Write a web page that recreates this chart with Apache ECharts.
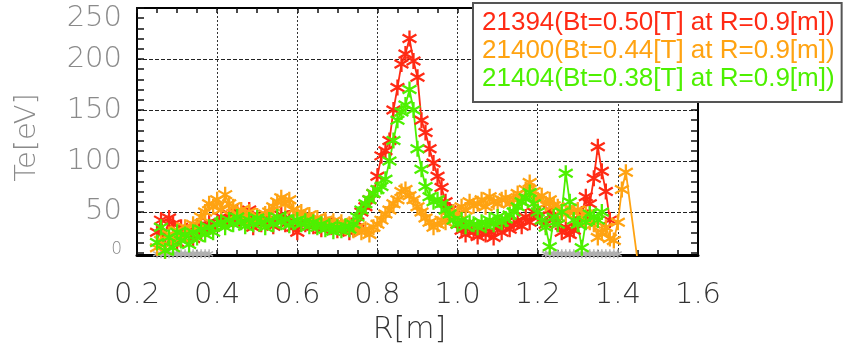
<!DOCTYPE html>
<html>
<head>
<meta charset="utf-8">
<script src="https://cdn.jsdelivr.net/npm/echarts@6/dist/echarts.min.js"></script>
<style>
  html, body { margin: 0; padding: 0; background: #fff; }
  #chart { width: 846px; height: 354px; }
</style>
</head>
<body>
<div id="chart"></div>
<script>
// Major radius sample positions [m]
const radius = [
  0.25,0.26,0.27,0.28,0.29,0.30,0.31,0.32,0.33,0.34,
  0.35,0.36,0.37,0.38,0.39,0.40,0.41,0.42,0.43,0.44,
  0.45,0.46,0.47,0.48,0.49,0.50,0.51,0.52,0.53,0.54,
  0.55,0.56,0.57,0.58,0.59,0.60,0.61,0.62,0.63,0.64,
  0.65,0.66,0.67,0.68,0.69,0.70,0.71,0.72,0.73,0.74,
  0.75,0.76,0.77,0.78,0.79,0.80,0.81,0.82,0.83,0.84,
  0.85,0.86,0.87,0.88,0.89,0.90,0.91,0.92,0.93,0.94,
  0.95,0.96,0.97,0.98,0.99,1.00,1.01,1.02,1.03,1.04,
  1.05,1.06,1.07,1.08,1.09,1.10,1.11,1.12,1.13,1.14,
  1.15,1.16,1.17,1.18,1.19,1.20,1.21,1.22,1.23,1.24,
  1.25,1.26,1.27,1.28,1.29,1.30,1.31,1.32,1.33,1.34,
  1.35,1.36,1.37,1.38,1.39,1.40,1.41,1.42,1.43,1.44,1.45
];

// Electron temperature [eV], shot 21394 (Bt = 0.50 T)
const te21394 = [
  30,42,25,44,38,20,35,28,30,24,
  36,30,33,40,35,38,45,40,48,42,
  50,44,40,52,35,42,38,45,40,36,
  42,47,38,44,35,30,40,38,42,36,
  38,33,40,35,37,32,36,34,30,33,
  40,50,55,62,68,85,105,110,120,150,
  172,195,205,220,198,182,140,128,112,98,
  85,74,60,52,46,38,32,28,35,30,
  26,32,28,31,25,35,30,40,33,38,
  42,36,45,40,50,46,42,38,52,45,
  38,30,35,28,32,40,48,65,58,83,
  114,90,70,42,null,null,null,null,null,null,null
];

// Electron temperature [eV], shot 21400 (Bt = 0.44 T)
const te21400 = [
  15,22,12,28,20,32,25,35,30,38,
  33,45,50,58,55,62,52,67,58,55,
  48,52,45,50,42,46,40,48,50,55,
  60,64,58,62,52,48,50,45,47,42,
  44,40,42,38,41,36,40,35,38,32,
  35,30,33,28,35,38,42,48,52,58,
  62,70,72,66,62,55,50,44,40,35,
  38,42,40,45,50,48,55,52,60,56,
  58,62,55,65,60,58,62,64,58,62,
  68,60,72,79,70,62,66,58,62,56,
  55,50,48,54,50,52,45,48,40,38,
  25,30,35,24,22,40,72,89,null,null,0
];

// Electron temperature [eV], shot 21404 (Bt = 0.38 T)
const te21404 = [
  20,35,12,25,15,30,22,28,18,30,
  25,33,28,35,30,38,40,35,42,38,
  45,40,36,42,38,44,40,35,42,38,
  45,40,43,37,40,42,38,41,36,40,
  35,38,33,36,31,35,32,36,33,38,
  45,52,58,62,68,72,75,82,100,120,
  140,148,155,170,150,112,92,75,65,60,
  62,58,52,48,42,38,42,36,40,38,
  35,40,37,42,38,45,40,43,47,50,
  55,60,64,69,58,50,42,35,16,45,
  38,50,88,60,42,38,15,40,48,45,
  42,50,null,null,null,null,null,null,null,null,null
];

// Channels reading near zero (edge of the axis)
const teZero = [
  9,9,9,9,9,9,9,9,9,9,
  9,9,9,9,null,null,null,null,null,null,
  null,null,null,null,null,null,null,null,null,null,
  null,null,null,null,null,null,null,null,null,null,
  null,null,null,null,null,null,null,null,null,null,
  null,null,null,null,null,null,null,null,null,null,
  null,null,null,null,null,null,null,null,null,null,
  null,null,null,null,null,null,null,null,null,null,
  null,null,null,null,null,null,null,null,null,null,
  null,null,null,null,null,null,null,9,9,9,
  9,9,9,9,9,9,9,9,9,9,
  9,9,9,9,9,9,null,null,null,null,null
];

const seriesNames = [
  '21394(Bt=0.50[T] at R=0.9[m])',
  '21400(Bt=0.44[T] at R=0.9[m])',
  '21404(Bt=0.38[T] at R=0.9[m])'
];
const seriesColors = ['#ff2a14', '#ffa312', '#4df000'];

const xTicks = [0.2, 0.4, 0.6, 0.8, 1.0, 1.2, 1.4, 1.6];
const yLabelValues = [50, 100, 150, 200, 250];
const yGridValues = [50, 100, 150, 200];
const yMinorValues = [10,20,30,40,50,60,70,80,90,100,110,120,130,140,150,160,170,180,190,200,210,220,230,240,250];

const Y_MIN = 7.8, Y_MAX = 250;

// six-armed asterisk drawn as strokes
const ASTERISK = 'path://M10 0L10 20M1.34 5L18.66 15M18.66 5L1.34 15';

function pairs(values, keepGaps) {
  const out = [];
  values.forEach((v, i) => {
    if (v === null) { if (keepGaps) out.push([radius[i], '-']); }
    else out.push([radius[i], v]);
  });
  return out;
}

const FONT = 'DejaVu Sans';

function starSeries(name, values, color, size, stroke, keepGaps) {
  return {
    name: name,
    type: 'line',
    data: pairs(values, keepGaps),
    symbol: ASTERISK,
    symbolSize: size,
    symbolKeepAspect: true,
    showAllSymbol: true,
    lineStyle: { color: color, width: 1.8 },
    itemStyle: { color: color, borderColor: color, borderWidth: stroke },
    emphasis: { disabled: true },
    clip: true
  };
}

const chart = echarts.init(document.getElementById('chart'), null, { renderer: 'canvas' });

const tickAxisY = (pos, showLine) => ({
  type: 'value', position: pos, min: Y_MIN, max: Y_MAX,
  axisLine: { show: showLine, onZero: false, lineStyle: { color: '#000', width: 2 } },
  axisTick: { show: true, inside: true, length: 7, customValues: yMinorValues,
              lineStyle: { color: '#111', width: 1.5 } },
  axisLabel: { show: false },
  splitLine: { show: false }
});

chart.setOption({
  animation: false,
  backgroundColor: '#fff',
  grid: { left: 137, right: 148, top: 8, bottom: 99, containLabel: false },
  legend: {
    data: seriesNames.map((n, i) => ({ name: n, textStyle: { color: seriesColors[i] } })),
    orient: 'vertical',
    left: 473, top: 3,
    icon: 'none',
    itemWidth: 0, itemHeight: 20, itemGap: 0,
    padding: [6, 7, 9, 4],
    borderColor: '#555', borderWidth: 2,
    backgroundColor: '#fff',
    selectedMode: false,
    textStyle: { fontSize: 26, fontFamily: 'Liberation Sans', lineHeight: 28 },
    z: 10
  },
  xAxis: [
    {
      type: 'value', position: 'bottom', min: 0.2, max: 1.6, interval: 0.2,
      name: 'R[m]', nameLocation: 'middle', nameGap: 56,
      nameTextStyle: { fontSize: 30, color: '#333', fontFamily: FONT, fontWeight: 200, padding: [0, 16, 0, 0] },
      axisLine: { onZero: false, lineStyle: { color: '#000', width: 3 } },
      axisTick: { inside: true, length: 5, lineStyle: { color: '#111', width: 1.5 } },
      minorTick: { show: true, splitNumber: 4, length: 5, lineStyle: { color: '#111', width: 1.5 } },
      axisLabel: {
        margin: 26, fontSize: 29, color: '#333', fontFamily: FONT, fontWeight: 200,
        customValues: xTicks,
        formatter: v => v.toFixed(1)
      },
      splitLine: { show: true, lineStyle: { color: '#333', width: 1, type: [2, 2] } }
    },
    {
      type: 'value', position: 'top', min: 0.2, max: 1.6, interval: 0.2,
      axisLine: { onZero: false, lineStyle: { color: '#000', width: 2 } },
      axisTick: { inside: true, length: 5, lineStyle: { color: '#111', width: 1.5 } },
      minorTick: { show: true, splitNumber: 4, length: 5, lineStyle: { color: '#111', width: 1.5 } },
      axisLabel: { show: false },
      splitLine: { show: false }
    }
  ],
  yAxis: [
    {
      type: 'value', position: 'left', min: Y_MIN, max: Y_MAX,
      name: 'Te[eV]', nameLocation: 'middle', nameGap: 95, nameRotate: 90,
      nameTextStyle: { fontSize: 29, color: '#8a8a8a', fontFamily: FONT, fontWeight: 200, padding: [0, 12, 0, 0] },
      axisLine: { show: true, onZero: false, lineStyle: { color: '#000', width: 2 } },
      axisTick: { show: false, customValues: yGridValues },
      axisLabel: {
        margin: 15, fontSize: 29, color: '#8a8a8a', fontFamily: FONT, fontWeight: 200,
        customValues: [Y_MIN].concat(yLabelValues),
        formatter: v => v === Y_MIN ? '{z|0}' : (v === 250 ? '{t|250}' : String(v)),
        rich: {
          z: { fontSize: 17, color: '#8a8a8a', fontFamily: FONT, padding: [0, 0, 10, 0] },
          t: { fontSize: 29, color: '#8a8a8a', fontFamily: FONT, fontWeight: 200, padding: [20, 0, 0, 0] }
        }
      },
      splitLine: { show: true, lineStyle: { color: '#222', width: 1, type: [4, 2] } }
    },
    tickAxisY('left', false),
    tickAxisY('right', true)
  ],
  series: [
    Object.assign(starSeries('zero', teZero, '#b0b0b0', 9, 1.4, true), { legendHoverLink: false }),
    starSeries(seriesNames[0], te21394, seriesColors[0], 16, 2.3, false),
    starSeries(seriesNames[1], te21400, seriesColors[1], 16, 2.3, false),
    starSeries(seriesNames[2], te21404, seriesColors[2], 16, 2.3, false)
  ]
});
</script>
</body>
</html>
